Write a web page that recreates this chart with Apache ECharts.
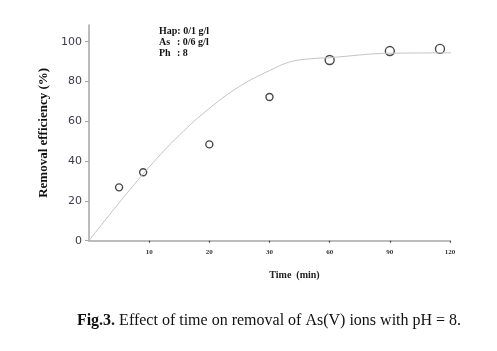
<!DOCTYPE html>
<html><head><meta charset="utf-8">
<script src="https://cdn.jsdelivr.net/npm/echarts@6/dist/echarts.min.js"></script>
<style>html,body{margin:0;padding:0;background:#fff}#c{width:497px;height:351px}</style>
</head><body><div id="c"></div>
<script>
const xTickTimes = [0, 10, 20, 30, 60, 90, 120];
const yTicks = [0, 20, 40, 60, 80, 100];
const pointTimes = [5, 9, 20, 30, 60, 90, 115];
const pointValues = [26.8, 34.4, 48.4, 72.2, 90.8, 95.3, 96.4];
const curveTimes = [0, 5, 10, 15, 20, 25, 30, 40, 50, 60, 90, 124];
const curveValues = [0, 19, 37, 53, 66.5, 77.5, 85.5, 89.8, 91.4, 92, 94.2, 94.4];
const annotationLines = [['Hap:', ' 0/1 g/l'], ['As', ': 0/6 g/l'], ['Ph', ': 8']];
const captionBold = 'Fig.3.';
const captionText = ' Effect of time on removal of As(V) ions with pH = 8.';

function timeToPos(t) {
  const n = xTickTimes.length;
  for (let i = 0; i < n - 1; i++) {
    const a = xTickTimes[i], b = xTickTimes[i + 1];
    if (t <= b || i === n - 2) return i + (t - a) / (b - a);
  }
}
const tickIdx = xTickTimes.map((_, i) => i);
const serif = '"Liberation Serif", "Times New Roman", serif';

const chart = echarts.init(document.getElementById('c'), null, {renderer: 'canvas'});
chart.setOption({
  animation: false,
  backgroundColor: '#fff',
  grid: {left: 89, right: 47, top: 25, bottom: 110.3},
  xAxis: {
    type: 'value', min: 0, max: xTickTimes.length - 1,
    name: 'Time  (min)', nameLocation: 'middle', nameGap: 30,
    nameTextStyle: {fontFamily: serif, fontWeight: 'bold', fontSize: 10, color: '#222', padding: [0, 0, 0, 50]},
    axisLine: {lineStyle: {color: '#a6a6a6', width: 1.5}},
    axisTick: {customValues: tickIdx.slice(1), length: 2, lineStyle: {color: '#444', width: 1.2}},
    axisLabel: {customValues: tickIdx.slice(1), formatter: v => String(xTickTimes[Math.round(v)]),
      fontFamily: serif, fontWeight: 'bold', fontSize: 7, color: '#333', margin: 8},
    splitLine: {show: false}
  },
  yAxis: {
    type: 'value', min: 0, max: 108.4, interval: 20,
    name: 'Removal efficiency (%)', nameLocation: 'middle', nameGap: 35,
    nameTextStyle: {fontFamily: serif, fontWeight: 'bold', fontSize: 13, color: '#111'},
    axisLine: {show: true, lineStyle: {color: '#a6a6a6', width: 1.5}},
    axisTick: {show: true, customValues: yTicks, length: 4, lineStyle: {color: '#a6a6a6'}},
    axisLabel: {customValues: yTicks, fontFamily: '"DejaVu Sans", sans-serif', fontSize: 11, color: '#3b3b50', margin: 7},
    splitLine: {show: false}
  },
  series: [
    {
      type: 'line', smooth: 0.4, showSymbol: false, clip: false, silent: true,
      lineStyle: {color: '#c4c4c4', width: 1},
      data: curveTimes.map((t, i) => [timeToPos(t), curveValues[i]])
    },
    {
      type: 'scatter', symbol: 'circle',
      symbolSize: (v, p) => p.dataIndex >= 4 ? 9 : 7,
      itemStyle: {color: '#fff', borderColor: '#1a1a1a', borderWidth: 1.4},
      data: pointTimes.map((t, i) => [timeToPos(t), pointValues[i]])
    }
  ],
  graphic: [
    {
      type: 'text', left: 159, top: 26,
      style: {
        text: annotationLines.map((l, i) => (i === 0 ? '{h|' : '{k|') + l[0] + '}{v|' + l[1] + '}').join('\n'),
        rich: {
          h: {fontFamily: serif, fontWeight: 'bold', fontSize: 10, fill: '#111', lineHeight: 11.3},
          k: {fontFamily: serif, fontWeight: 'bold', fontSize: 10, fill: '#111', width: 18, lineHeight: 11.3},
          v: {fontFamily: serif, fontWeight: 'bold', fontSize: 10, fill: '#111', lineHeight: 11.3}
        }
      }
    },
    {
      type: 'text', x: 269, y: 321,
      style: {
        text: '{b|' + captionBold + '}{n|' + captionText + '}',
        align: 'center', verticalAlign: 'middle',
        rich: {
          b: {fontFamily: serif, fontWeight: 'bold', fontSize: 16, fill: '#111'},
          n: {fontFamily: serif, fontSize: 16, fill: '#111'}
        }
      }
    }
  ]
});
</script></body></html>
